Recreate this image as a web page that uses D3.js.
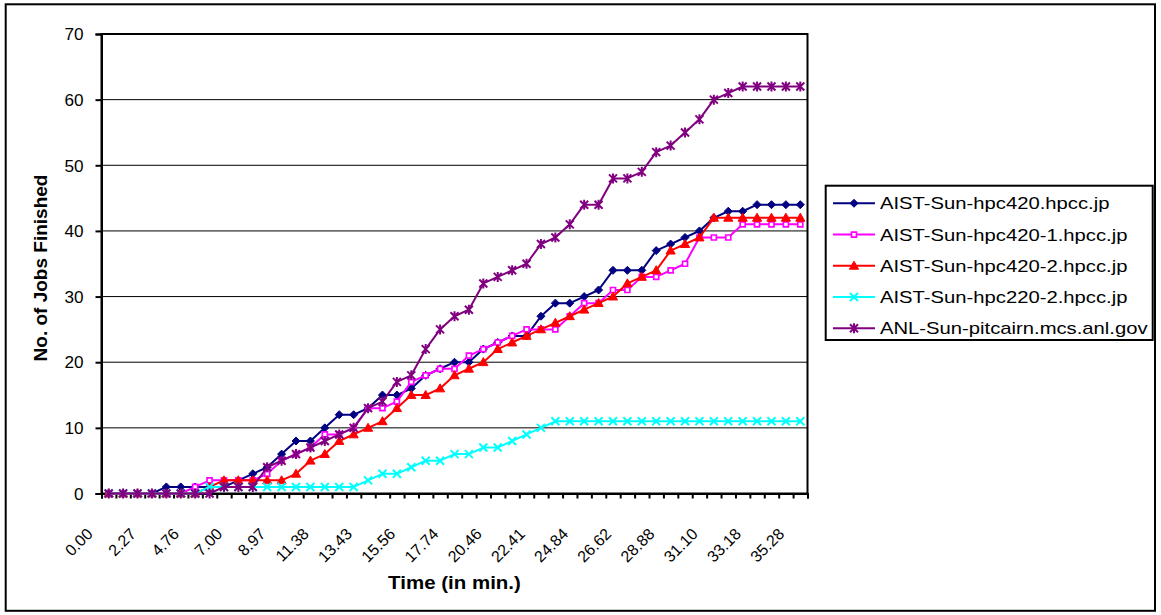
<!DOCTYPE html>
<html><head><meta charset="utf-8">
<script src="https://cdn.jsdelivr.net/npm/d3@7/dist/d3.min.js"></script>
<style>
body{margin:0;background:#fff;}
text{font-family:"Liberation Sans", Arial, Helvetica, sans-serif;fill:#000;}
</style></head><body>
<svg id="chart" width="1161" height="615"></svg>
<script>
// ---------- data ----------
const categories = d3.range(49); // 49 time samples (only every 3rd is labelled)
const tickLabels = ["0.00","2.27","4.76","7.00","8.97","11.38","13.43","15.56","17.74","20.46","22.41","24.84","26.62","28.88","31.10","33.18","35.28"];
const yTicks = [0,10,20,30,40,50,60,70];
const seriesNames = ["AIST-Sun-hpc420.hpcc.jp","AIST-Sun-hpc420-1.hpcc.jp","AIST-Sun-hpc420-2.hpcc.jp","AIST-Sun-hpc220-2.hpcc.jp","ANL-Sun-pitcairn.mcs.anl.gov"];
const hpc420   = [0,0,0,0,1,1,1,1,1,2,3,4,6,8,8,10,12,12,13,15,15,16,18,19,20,20,22,23,24,24,27,29,29,30,31,34,34,34,37,38,39,40,42,43,43,44,44,44,44];
const hpc420_1 = [0,0,0,0,0,0,1,2,2,2,2,3,5,6,7,9,9,10,13,13,14,17,18,19,19,21,22,23,24,25,25,25,27,29,29,31,31,33,33,34,35,39,39,39,41,41,41,41,41];
const hpc420_2 = [0,0,0,0,0,0,0,1,2,2,2,2,2,3,5,6,8,9,10,11,13,15,15,16,18,19,20,22,23,24,25,26,27,28,29,30,32,33,34,37,38,39,42,42,42,42,42,42,42];
const hpc220_2 = [0,0,0,0,0,0,0,1,1,1,1,1,1,1,1,1,1,1,2,3,3,4,5,5,6,6,7,7,8,9,10,11,11,11,11,11,11,11,11,11,11,11,11,11,11,11,11,11,11];
const pitcairn = [0,0,0,0,0,0,0,0,1,1,1,4,5,6,7,8,9,10,13,14,17,18,22,25,27,28,32,33,34,35,38,39,41,44,44,48,48,49,52,53,55,57,60,61,62,62,62,62,62];
const seriesValues = [hpc420, hpc420_1, hpc420_2, hpc220_2, pitcairn];

// ---------- styles ----------
const colors = ["#000080","#FF00FF","#FF0000","#00FFFF","#800080"];
const markerTypes = ["diamond","square","triangle","x","star"];
const markerPaths = {
  diamond: "M0,-4L4,0L0,4L-4,0Z",
  square: "M-2.5,-2.5h5v5h-5Z",
  triangle: "M0,-4.6L4.6,3.4L-4.6,3.4Z",
  x: "M-4,-4L4,4M-4,4L4,-4",
  star: "M-4,-4L4,4M-4,4L4,-4M0,-5L0,5"
};
function styleMarker(sel, type, color){
  sel.attr("d", markerPaths[type]);
  if(type==="diamond"||type==="triangle") sel.attr("fill",color).attr("stroke",color).attr("stroke-width",1);
  else if(type==="square") sel.attr("fill","#fff").attr("stroke",color).attr("stroke-width",1.7);
  else sel.attr("fill","none").attr("stroke",color).attr("stroke-width",2);
}
function stretch(sel, f){
  sel.each(function(){
    const L = this.getComputedTextLength();
    d3.select(this).attr("textLength", L*f).attr("lengthAdjust","spacingAndGlyphs");
  });
}

const svg = d3.select("#chart");
const W = 1161, H = 615;
const plot = {left:101.5, right:807.5, top:34, bottom:493.5};

svg.append("rect").attr("width",W).attr("height",H).attr("fill","#fff");
svg.append("rect").attr("x",5.7).attr("y",4.3).attr("width",1149.3).attr("height",606.5)
  .attr("fill","none").attr("stroke","#000").attr("stroke-width",2);

const x = d3.scaleBand().domain(categories).range([plot.left, plot.right]).padding(0);
const xEdge = d3.scaleLinear().domain([0, categories.length]).range([plot.left, plot.right]);
const y = d3.scaleLinear().domain([0,70]).range([plot.bottom, plot.top]);
const cx = i => x(i) + x.bandwidth()/2;

// gridlines
svg.append("g").selectAll("line").data(yTicks.filter(v=>v>0 && v<70)).join("line")
  .attr("x1",plot.left).attr("x2",plot.right)
  .attr("y1",d=>y(d)).attr("y2",d=>y(d))
  .attr("stroke","#000").attr("stroke-width",1);

// plot border
svg.append("rect").attr("x",plot.left).attr("y",plot.top)
  .attr("width",plot.right-plot.left).attr("height",plot.bottom-plot.top)
  .attr("fill","none").attr("stroke","#000").attr("stroke-width",2);

// y axis
const yAxis = svg.append("g").attr("transform",`translate(${plot.left},0)`)
  .call(d3.axisLeft(y).tickValues(yTicks).tickSize(6).tickPadding(12).tickFormat(d3.format("d")));
yAxis.select(".domain").attr("stroke","#000").attr("stroke-width",2);
yAxis.selectAll(".tick line").attr("stroke","#000").attr("stroke-width",2);
yAxis.selectAll("text").attr("font-size",16).attr("font-family",'"Liberation Sans", Arial, sans-serif').attr("dy","0.36em");
stretch(yAxis.selectAll("text"), 1.07);

// x axis tick marks at category boundaries
const xTicks = svg.append("g").attr("transform",`translate(0,${plot.bottom})`)
  .call(d3.axisBottom(xEdge).tickValues(d3.range(categories.length+1)).tickSize(5).tickFormat(""));
xTicks.select(".domain").attr("stroke","#000").attr("stroke-width",2);
xTicks.selectAll(".tick line").attr("stroke","#000").attr("stroke-width",2);

// x axis labels every 3rd category
const xLab = svg.append("g").attr("transform",`translate(0,${plot.bottom})`)
  .call(d3.axisBottom(x).tickValues(categories.filter(i=>i%3===0)).tickSize(0).tickFormat(i=>tickLabels[i/3]));
xLab.select(".domain").remove();
xLab.selectAll("text").attr("font-size",16).attr("font-family",'"Liberation Sans", Arial, sans-serif')
  .attr("y",0).attr("dy",0).attr("text-anchor","end")
  .attr("transform","translate(-15,41.5) rotate(-45)");

// series
const line = d3.line().x((d,i)=>cx(categories[i])).y(d=>y(d));
seriesValues.forEach((vals,k)=>{
  const g = svg.append("g");
  g.append("path").datum(vals).attr("d",line).attr("fill","none")
    .attr("stroke",colors[k]).attr("stroke-width",2).attr("stroke-linejoin","round");
  g.selectAll("path.m").data(vals).join("path").attr("class","m")
    .attr("transform",(d,i)=>`translate(${cx(categories[i])},${y(d)})`)
    .call(styleMarker, markerTypes[k], colors[k]);
});

// axis titles
const xt = svg.append("text").attr("x",(plot.left+plot.right)/2).attr("y",589)
  .attr("text-anchor","middle").attr("font-size",17.5).attr("font-weight","bold").text("Time (in min.)");
stretch(xt, 1.17);
svg.append("text").attr("transform","translate(47,268) rotate(-90)")
  .attr("text-anchor","middle").attr("font-size",19).attr("font-weight","bold").text("No. of Jobs Finished");

// legend
const lg = svg.append("g");
lg.append("rect").attr("x",825.7).attr("y",185.7).attr("width",327).attr("height",154.3)
  .attr("fill","#fff").attr("stroke","#000").attr("stroke-width",2);
seriesNames.forEach((name,k)=>{
  const yy = 203.3 + k*31.25;
  lg.append("line").attr("x1",833).attr("x2",875).attr("y1",yy).attr("y2",yy)
    .attr("stroke",colors[k]).attr("stroke-width",2);
  lg.append("path").attr("transform",`translate(854,${yy})`).call(styleMarker, markerTypes[k], colors[k]);
  const t = lg.append("text").attr("x",880).attr("y",yy).attr("dy","0.36em")
    .attr("font-size",17).text(name);
  stretch(t, 1.19);
});
</script>
</body></html>
